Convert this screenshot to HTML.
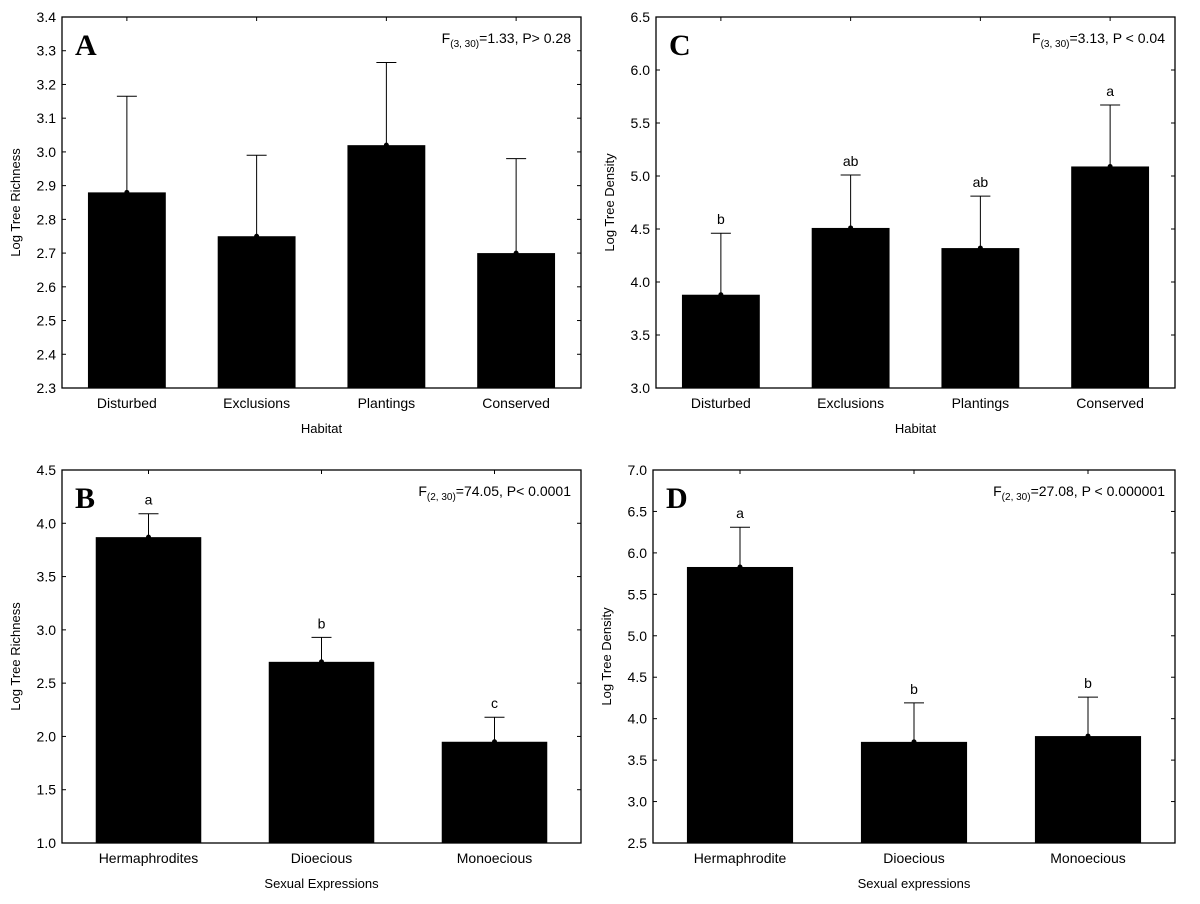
<!DOCTYPE html>
<html><head><meta charset="utf-8"><style>
html,body{margin:0;padding:0;background:#fff;}
svg{display:block;font-family:"Liberation Sans",Arial,sans-serif;}
</style></head><body>
<svg id="fig" width="1200" height="904" viewBox="0 0 1200 904" xmlns="http://www.w3.org/2000/svg"></svg>
<script>
// Panel A
const catsA = ["Disturbed","Exclusions","Plantings","Conserved"];
const meanA = [2.88, 2.75, 3.02, 2.70];
const upperA = [3.165, 2.99, 3.265, 2.98];
const lettersA = ["","","",""];
const ticksA = [2.3,2.4,2.5,2.6,2.7,2.8,2.9,3.0,3.1,3.2,3.3,3.4];
// Panel C
const catsC = ["Disturbed","Exclusions","Plantings","Conserved"];
const meanC = [3.88, 4.51, 4.32, 5.09];
const upperC = [4.46, 5.01, 4.81, 5.67];
const lettersC = ["b","ab","ab","a"];
const ticksC = [3.0,3.5,4.0,4.5,5.0,5.5,6.0,6.5];
// Panel B
const catsB = ["Hermaphrodites","Dioecious","Monoecious"];
const meanB = [3.87, 2.70, 1.95];
const upperB = [4.09, 2.93, 2.18];
const lettersB = ["a","b","c"];
const ticksB = [1.0,1.5,2.0,2.5,3.0,3.5,4.0,4.5];
// Panel D
const catsD = ["Hermaphrodite","Dioecious","Monoecious"];
const meanD = [5.83, 3.72, 3.79];
const upperD = [6.31, 4.19, 4.26];
const lettersD = ["a","b","b"];
const ticksD = [2.5,3.0,3.5,4.0,4.5,5.0,5.5,6.0,6.5,7.0];

const NS="http://www.w3.org/2000/svg";
const svg=document.getElementById('fig');
function mk(tag,attrs,parent,text){const e=document.createElementNS(NS,tag);for(const k in attrs)e.setAttribute(k,attrs[k]);if(text!==undefined)e.textContent=text;parent.appendChild(e);return e;}

function panel(p){
  const g=mk('g',{},svg);
  
  
  const ymin=p.ticks[0], ymax=p.ticks[p.ticks.length-1];
  const y=v=>p.b-(v-ymin)/(ymax-ymin)*(p.b-p.t);
  const band=(p.r-p.l)/p.cats.length;
  const xc=i=>p.l+band*(i+0.5);
  const bw=band*p.bwFrac;
  // bars
  p.cats.forEach((c,i)=>{
    const bar=mk('rect',{x:xc(i)-bw/2,y:y(p.mean[i]),width:bw,height:p.b-y(p.mean[i]),fill:'#000'},g);
    
    
    const eb=mk('g',{stroke:'#000','stroke-width':1},g);
    
    
    mk('line',{x1:xc(i),x2:xc(i),y1:y(p.mean[i]),y2:y(p.upper[i])},eb);
    mk('line',{x1:xc(i)-10,x2:xc(i)+10,y1:y(p.upper[i]),y2:y(p.upper[i])},eb);
    mk('circle',{cx:xc(i),cy:y(p.mean[i]),r:2.5,fill:'#000'},g);
    if(p.letters[i]){
      const lt=mk('text',{x:xc(i),y:y(p.upper[i])-9,'text-anchor':'middle','font-size':14},g,p.letters[i]);
      
      
    }
    const xl=mk('text',{x:xc(i),y:p.b+20,'text-anchor':'middle','font-size':14},g,c);
    
    
    mk('line',{x1:xc(i),x2:xc(i),y1:p.t,y2:p.t+4,stroke:'#000'},g);
  });
  // frame
  const fr=mk('rect',{x:p.l,y:p.t,width:p.r-p.l,height:p.b-p.t,fill:'none',stroke:'#000','stroke-width':1.3},g);
  
  
  p.ticks.forEach(v=>{
    mk('line',{x1:p.l,x2:p.l+4,y1:y(v),y2:y(v),stroke:'#000'},g);
    mk('line',{x1:p.r-4,x2:p.r,y1:y(v),y2:y(v),stroke:'#000'},g);
    const tl=mk('text',{x:p.l-6,y:y(v)+5,'text-anchor':'end','font-size':14},g,v.toFixed(1));
    
    
  });
  const yt=mk('text',{x:0,y:0,'text-anchor':'middle','font-size':13,transform:`translate(${p.l-42},${(p.t+p.b)/2}) rotate(-90)`},g,p.ylabel);
  
  
  const xt=mk('text',{x:(p.l+p.r)/2,y:p.b+45,'text-anchor':'middle','font-size':13},g,p.xlabel);
  
  
  const pl=mk('text',{x:p.l+13,y:p.t+38,'font-size':30,'font-weight':'bold','font-family':'Liberation Serif,serif'},g,p.id);
  
  
  const st=mk('text',{x:p.r-10,y:p.t+26,'text-anchor':'end','font-size':14},g);
  
  
  mk('tspan',{},st,'F');
  mk('tspan',{'font-size':10,dy:4},st,p.df);
  mk('tspan',{dy:-4},st,p.stat);
}
panel({id:'A',l:62,r:581,t:17,b:388,cats:catsA,mean:meanA,upper:upperA,letters:lettersA,ticks:ticksA,bwFrac:0.6,ylabel:'Log Tree Richness',xlabel:'Habitat',df:'(3, 30)',stat:'=1.33, P> 0.28'});
panel({id:'C',l:656,r:1175,t:17,b:388,cats:catsC,mean:meanC,upper:upperC,letters:lettersC,ticks:ticksC,bwFrac:0.6,ylabel:'Log Tree Density',xlabel:'Habitat',df:'(3, 30)',stat:'=3.13, P < 0.04'});
panel({id:'B',l:62,r:581,t:470,b:843,cats:catsB,mean:meanB,upper:upperB,letters:lettersB,ticks:ticksB,bwFrac:0.61,ylabel:'Log Tree Richness',xlabel:'Sexual Expressions',df:'(2, 30)',stat:'=74.05, P< 0.0001'});
panel({id:'D',l:653,r:1175,t:470,b:843,cats:catsD,mean:meanD,upper:upperD,letters:lettersD,ticks:ticksD,bwFrac:0.61,ylabel:'Log Tree Density',xlabel:'Sexual expressions',df:'(2, 30)',stat:'=27.08, P < 0.000001'});
</script>
</body></html>
